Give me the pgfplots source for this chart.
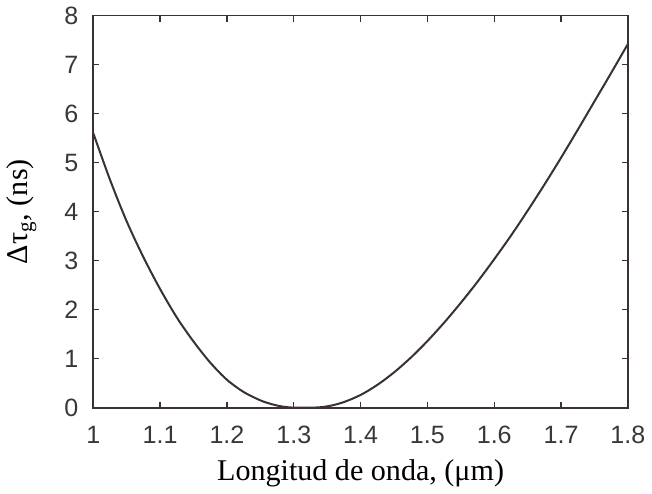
\documentclass[border=0pt]{standalone}
\usepackage{pgfplots}
\pgfplotsset{compat=1.18}
\usepackage{fontspec}
\setmainfont{Liberation Serif}
\newfontfamily\hel{Liberation Sans}
\definecolor{curve}{HTML}{3A3232}
\begin{document}
\begin{tikzpicture}
\begin{axis}[
  scale only axis,
  width=266.5pt, height=195.5pt,
  xmin=1, xmax=1.8, ymin=0, ymax=8,
  xtick={1,1.1,...,1.8},
  xticklabels={1,1.1,1.2,1.3,1.4,1.5,1.6,1.7,1.8},
  ytick={0,1,...,8},
  tick align=inside,
  major tick length=3pt,
  axis line style={curve, line width=0.9pt},
  tick style={curve, line width=0.7pt},
  /pgf/number format/assume math mode=true,
  ticklabel style={font=\hel\fontsize{12.5}{13}\selectfont, text=black!78},
  xticklabel style={yshift=-5.5pt},
  yticklabel style={xshift=-4pt},
  xlabel={Longitud de onda, (μm)},
  ylabel={Δτ\textsubscript{g}, (ns)},
  label style={font=\fontsize{15}{17}\selectfont},
  xlabel style={yshift=-1pt},
  ylabel style={yshift=7pt},
]
\addplot[curve, line width=1pt, smooth] coordinates {
(1.00,5.60) (1.025,4.65) (1.05,3.80) (1.075,3.07) (1.10,2.42) (1.125,1.84)
(1.15,1.35) (1.175,0.92) (1.20,0.57) (1.225,0.32) (1.25,0.15) (1.265,0.08)
(1.28,0.03) (1.295,0.005) (1.31,0.0) (1.325,0.0) (1.34,0.01) (1.355,0.04)
(1.375,0.115) (1.40,0.26) (1.425,0.465) (1.45,0.72) (1.475,1.02) (1.50,1.36)
(1.525,1.735) (1.55,2.14) (1.575,2.57) (1.60,3.03) (1.625,3.51) (1.65,4.02)
(1.675,4.55) (1.70,5.10) (1.725,5.67) (1.75,6.25) (1.775,6.83) (1.80,7.42)
};
\end{axis}
\end{tikzpicture}
\end{document}
